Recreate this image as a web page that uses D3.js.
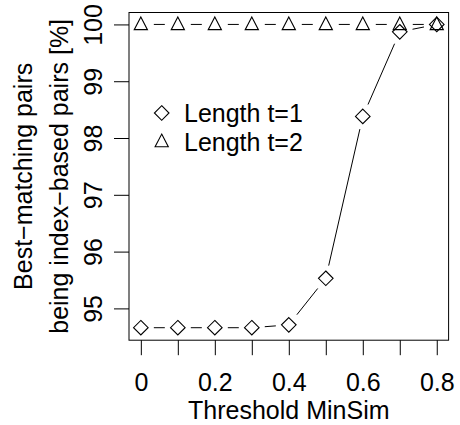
<!DOCTYPE html>
<html><head><meta charset="utf-8">
<script src="https://cdn.jsdelivr.net/npm/d3@7"></script>
<style>body{margin:0;background:#fff}svg{display:block}text{font-family:"Liberation Sans",Arial,sans-serif;fill:#000}</style>
</head><body><svg id="c" width="460" height="425"></svg>
<script>
const thresholds = [0, 0.1, 0.2, 0.3, 0.4, 0.5, 0.6, 0.7, 0.8];
const lengthT1 = [94.66, 94.66, 94.66, 94.66, 94.71, 95.53, 98.38, 99.87, 100];
const lengthT2 = [100, 100, 100, 100, 100, 100, 100, 100, 100];
const xTickValues = [0, 0.1, 0.2, 0.3, 0.4, 0.5, 0.6, 0.7, 0.8];
const xTickLabels = ["0", "", "0.2", "", "0.4", "", "0.6", "", "0.8"];
const yTickValues = [95, 96, 97, 98, 99, 100];
const seriesNames = ["Length t=1", "Length t=2"];

const svg = d3.select("#c");
const L = 129, R = 448.6, T = 12.5, B = 340.2;
const FS = 25;
const x = d3.scaleLinear().domain([-0.032, 0.832]).range([L, R]);
const y = d3.scaleLinear().domain([94.44, 100.21]).range([B, T]);

// box
svg.append("rect").attr("x", L).attr("y", T).attr("width", R - L).attr("height", B - T)
  .attr("fill", "none").attr("stroke", "#000").attr("stroke-width", 1);

// x axis
const xa = svg.append("g").attr("transform", `translate(0,${B})`)
  .call(d3.axisBottom(x).tickValues(xTickValues).tickSize(15).tickPadding(18)
    .tickFormat((d, i) => xTickLabels[i]));
xa.select(".domain").remove();
xa.selectAll("line").attr("stroke", "#000");
xa.selectAll("text").attr("font-size", FS).attr("font-family", "Liberation Sans, Arial, sans-serif");

// y axis
const ya = svg.append("g").attr("transform", `translate(${L},0)`)
  .call(d3.axisLeft(y).tickValues(yTickValues).tickSize(15).tickFormat(d3.format("d")));
ya.select(".domain").remove();
ya.selectAll("line").attr("stroke", "#000");
ya.selectAll("text").remove();
ya.selectAll(".tick").append("text")
  .attr("transform", "translate(-27,0) rotate(-90)")
  .attr("text-anchor", "middle").attr("font-size", FS)
  .text(d => d3.format("d")(d));

// titles
svg.append("text").attr("x", (L + R) / 2).attr("y", 419).attr("text-anchor", "middle")
  .attr("font-size", FS).text("Threshold MinSim");
const cy = (T + B) / 2;
svg.append("text").attr("transform", `translate(32,${cy}) rotate(-90)`).attr("text-anchor", "middle")
  .attr("font-size", FS).text("Best\u2212matching pairs");
svg.append("text").attr("transform", `translate(68,${cy}) rotate(-90)`).attr("text-anchor", "middle")
  .attr("font-size", FS).text("being index\u2212based pairs [%]");

// series, type "b" lines with gaps
const gap = 13;
function drawSeries(vals, shape) {
  const pts = thresholds.map((t, i) => [x(t), y(vals[i])]);
  const g = svg.append("g");
  for (let i = 0; i < pts.length - 1; i++) {
    const [x0, y0] = pts[i], [x1, y1] = pts[i + 1];
    const d = Math.hypot(x1 - x0, y1 - y0);
    if (d <= 2 * gap) continue;
    const ux = (x1 - x0) / d, uy = (y1 - y0) / d;
    g.append("line").attr("x1", x0 + ux * gap).attr("y1", y0 + uy * gap)
      .attr("x2", x1 - ux * gap).attr("y2", y1 - uy * gap)
      .attr("stroke", "#000").attr("stroke-width", 1);
  }
  pts.forEach(p => g.append("path").attr("d", shape(p[0], p[1]))
    .attr("fill", "none").attr("stroke", "#000").attr("stroke-width", 1.1));
}
const diamond = (cx, cy) => { const r = 7.3; return `M${cx},${cy - r}L${cx + r},${cy}L${cx},${cy + r}L${cx - r},${cy}Z`; };
const triangle = (cx, cy) => { const h = 12.6, w = 13.2; const c = cy + 1;
  return `M${cx},${c - h * 2 / 3}L${cx + w / 2},${c + h / 3}L${cx - w / 2},${c + h / 3}Z`; };
drawSeries(lengthT1, diamond);
drawSeries(lengthT2, triangle);

// legend
const legY = [113, 141.5];
const shapes = [diamond, triangle];
seriesNames.forEach((n, i) => {
  svg.append("path").attr("d", shapes[i](161.7, legY[i])).attr("fill", "none").attr("stroke", "#000").attr("stroke-width", 1.1);
  svg.append("text").attr("x", 184).attr("y", legY[i] + 9).attr("font-size", FS).text(n);
});
</script></body></html>
